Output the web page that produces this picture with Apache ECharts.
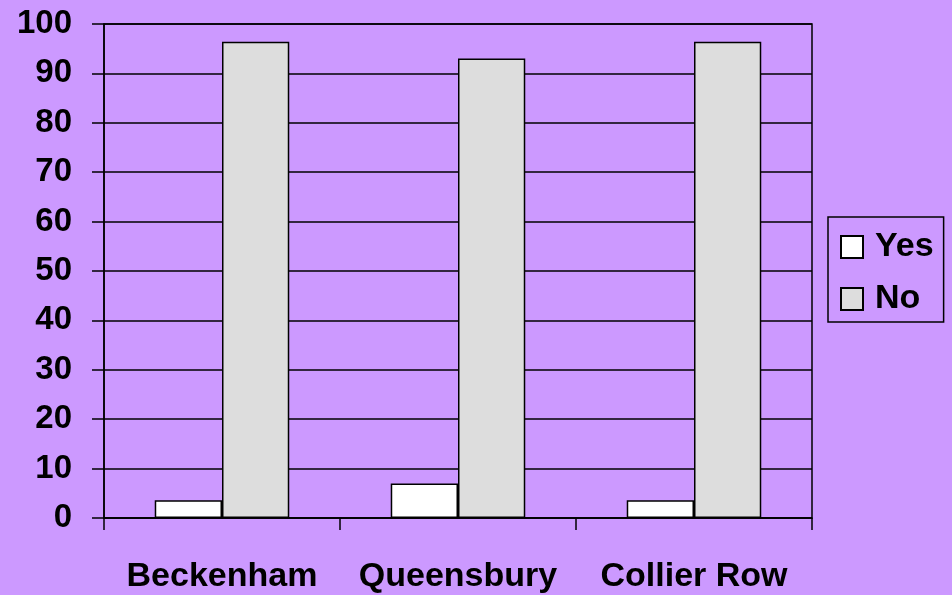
<!DOCTYPE html>
<html>
<head>
<meta charset="utf-8">
<script src="https://cdn.jsdelivr.net/npm/echarts@6/dist/echarts.min.js"></script>
<style>
  html, body { margin: 0; padding: 0; background: #CC99FF; }
  #chart { width: 952px; height: 595px; }
</style>
</head>
<body>
<div id="chart"></div>
<script>
// data
const categories = ['Beckenham', 'Queensbury', 'Collier Row']
const yesValues = [3.6, 7, 3.6]
const noValues = [96.4, 93, 96.4]

const font = '"Liberation Sans", Arial, sans-serif'
const chart = echarts.init(document.getElementById('chart'))

const option = {
  backgroundColor: '#CC99FF',
  animation: false,
  grid: {
    left: 104,
    right: 140,
    top: 24,
    bottom: 77,
    show: true,
    borderColor: '#000',
    borderWidth: 1.5,
    backgroundColor: 'transparent'
  },
  legend: {
    orient: 'vertical',
    left: 828,
    top: 217,
    padding: [13, 10, 6, 12],
    itemGap: 18,
    itemWidth: 22,
    itemHeight: 22,
    icon: 'rect',
    borderColor: '#000',
    borderWidth: 1.5,
    textStyle: {
      fontFamily: font,
      fontWeight: 'bold',
      fontSize: 34,
      color: '#000',
      padding: [0, 0, 0, 7]
    },
    data: ['Yes', 'No']
  },
  xAxis: {
    type: 'category',
    data: categories,
    axisLine: { lineStyle: { color: '#000', width: 1.5 } },
    axisTick: { show: true, length: 12, lineStyle: { color: '#000', width: 1.5 } },
    axisLabel: {
      interval: 0,
      margin: 42,
      fontFamily: font,
      fontWeight: 'bold',
      fontSize: 34,
      color: '#000'
    }
  },
  yAxis: {
    type: 'value',
    min: 0,
    max: 100,
    interval: 10,
    axisLine: { show: true, lineStyle: { color: '#000', width: 1.5 } },
    axisTick: { show: true, length: 12, lineStyle: { color: '#000', width: 1.5 } },
    splitLine: { show: true, lineStyle: { color: '#000', width: 1.5 } },
    axisLabel: {
      margin: 32,
      fontFamily: font,
      fontWeight: 'bold',
      fontSize: 33,
      color: '#000'
    }
  },
  series: [
    {
      name: 'Yes',
      type: 'bar',
      data: yesValues,
      barGap: '0%',
      barCategoryGap: '43%',
      itemStyle: { color: '#FFFFFF', borderColor: '#000', borderWidth: 1.5 }
    },
    {
      name: 'No',
      type: 'bar',
      data: noValues,
      barGap: '0%',
      barCategoryGap: '43%',
      itemStyle: { color: '#DDDDDD', borderColor: '#000', borderWidth: 1.5 }
    }
  ]
}

chart.setOption(option)
</script>
</body>
</html>
